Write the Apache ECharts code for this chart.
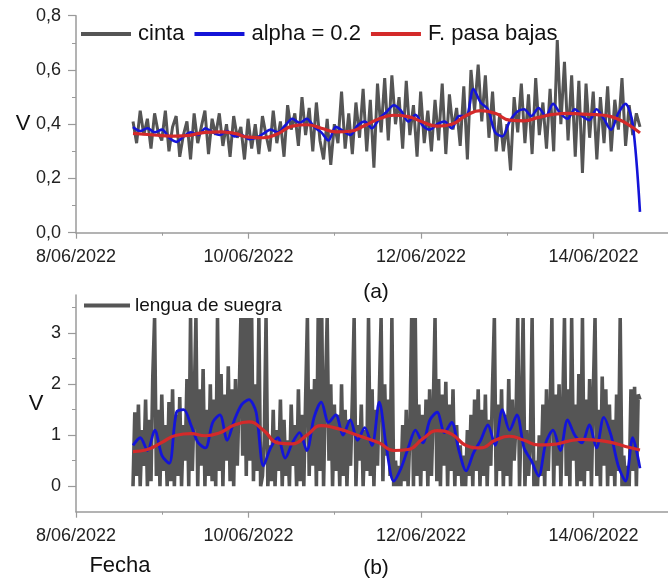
<!DOCTYPE html>
<html><head><meta charset="utf-8">
<script src="https://cdn.jsdelivr.net/npm/echarts@6/dist/echarts.min.js"></script>
<style>html,body{margin:0;padding:0;background:#fff}#c{width:668px;height:584px}</style>
</head><body><div id="c"></div><script>
// x positions: days since 8/06/2022 00:00; series are evenly spaced between startDay and endDay
const startDay = 0.661, endDay = 6.539;
const xLabelDays = [0, 2, 4, 6];
const yTicksA = [0, 0.2, 0.4, 0.6, 0.8];
const yTicksB = [0, 1, 2, 3];
const yMinorB = [0.5, 1.5, 2.5, 3.5];

// panel (a) "cinta" raw (hourly)
const cintaA = [
0.41,0.33,0.45,0.36,0.42,0.31,0.44,0.37,0.34,0.45,0.30,0.39,
0.43,0.28,0.36,0.41,0.27,0.44,0.33,0.39,0.45,0.29,0.42,0.36,
0.44,0.32,0.40,0.28,0.43,0.35,0.39,0.27,0.42,0.31,0.40,0.29,
0.43,0.36,0.30,0.45,0.33,0.41,0.28,0.47,0.38,0.44,0.32,0.50,
0.36,0.46,0.30,0.48,0.34,0.27,0.42,0.25,0.40,0.33,0.52,0.31,
0.44,0.29,0.48,0.35,0.53,0.30,0.49,0.24,0.55,0.37,0.57,0.34,
0.58,0.40,0.50,0.31,0.56,0.36,0.47,0.28,0.52,0.33,0.45,0.30,
0.49,0.34,0.55,0.29,0.51,0.38,0.46,0.32,0.54,0.27,0.60,0.45,
0.62,0.41,0.58,0.35,0.52,0.30,0.44,0.30,0.40,0.23,0.50,0.37,
0.55,0.33,0.51,0.29,0.57,0.36,0.48,0.31,0.53,0.30,0.71,0.40,
0.63,0.34,0.58,0.28,0.56,0.22,0.55,0.35,0.52,0.27,0.50,0.33,
0.54,0.30,0.49,0.38,0.57,0.32,0.47,0.36,0.44,0.39];
// panel (a) "alpha = 0.2" (2-hourly)
const alphaA = [
0.39,0.375,0.385,0.37,0.38,0.35,0.335,0.355,0.37,0.36,
0.385,0.37,0.36,0.375,0.355,0.36,0.345,0.35,0.365,0.38,
0.37,0.395,0.42,0.405,0.42,0.39,0.37,0.34,0.39,0.375,
0.36,0.395,0.41,0.385,0.42,0.445,0.47,0.45,0.41,0.435,
0.395,0.38,0.40,0.41,0.385,0.43,0.43,0.53,0.48,0.455,
0.37,0.355,0.41,0.445,0.455,0.43,0.46,0.43,0.475,0.44,
0.42,0.455,0.43,0.415,0.455,0.42,0.38,0.44,0.475,0.40,0.077];
// panel (a) "F. pasa bajas" (4-hourly)
const pasaA = [
0.366,0.362,0.358,0.356,0.360,0.370,0.372,0.366,0.352,0.350,
0.365,0.393,0.398,0.385,0.372,0.374,0.395,0.420,0.433,0.428,
0.408,0.393,0.400,0.432,0.450,0.440,0.415,0.412,0.425,0.436,
0.440,0.437,0.435,0.428,0.405,0.368];
// panel (b) "lengua de suegra" raw (half-hourly)
const suegraB = [
0,1.45,0.2,1.6,0,1.1,0.4,1.7,0,1.3,0.1,2.15,3.3,0.2,1.5,0,1.8,0.3,1.2,0,1.65,0.1,1.9,0,
1.4,0.2,1.75,0,1.2,0.5,2.1,0,3.3,0.3,1.6,3.3,0,1.9,0.4,2.3,0,1.5,0.2,2.0,0.1,1.7,0,3.3,
0.3,2.2,0,1.8,0.5,2.35,0.1,1.9,0,2.1,0.4,1.7,3.3,0.6,3.3,0.2,3.3,0.5,3.3,0.1,2.0,0.3,3.3,0,
0.2,0.9,3.3,0,0.8,0.1,1.5,0,1.1,0.3,1.7,0,1.3,0.2,0.9,0,1.6,0.4,1.2,0,1.9,0.1,1.4,0,
1.7,3.3,0.2,1.9,0.4,2.1,0,3.3,0.3,3.3,0,1.8,3.3,0.5,2.0,0,1.6,0.3,1.4,0,2.0,0.2,1.5,0,
1.3,0.4,1.7,3.3,0,1.2,0.5,1.6,0,1.1,0.3,3.3,0.2,1.9,0,1.5,0.4,1.8,3.3,0.1,2.0,0.6,1.7,0.2,
3.3,0,0.5,0,0.4,0,1.2,0.1,1.5,0,1.0,3.3,0,3.3,0.2,1.6,0,1.4,0.3,1.7,0,1.9,0.2,1.5,
3.3,0.1,2.1,0,1.8,0.4,2.05,0,1.6,0.3,1.9,0,1.2,0.2,0.8,0,0.6,0,1.1,0.2,1.4,0,1.7,0.3,
1.9,0,1.5,0.2,1.8,0,1.3,0.4,2.0,3.3,0,1.6,0.3,1.9,0,1.4,0.2,2.1,0,1.7,0.5,1.2,3.3,0,
1.5,3.3,0,1.1,0.2,0.8,3.3,0,0.5,0,1.0,0.2,1.6,0,1.9,0.3,1.4,3.3,0,1.8,0.4,2.0,0,1.5,
3.3,0.2,1.9,0,3.3,0.5,1.6,0,2.2,0.1,3.3,0,1.7,0.3,2.1,0,1.8,3.3,0.2,1.5,0,2.15,0.4,1.9,
0,1.6,0.2,1.3,0,1.8,0.3,3.3,0,0.6,0,0.4,0,1.9,0.3,1.95,0,1.8,1.7];
// panel (b) alpha = 0.2 (2-hourly)
const alphaB = [
0.80,0.95,0.70,1.10,0.60,0.45,1.45,1.50,1.20,0.85,
0.75,1.25,1.40,0.90,1.30,1.60,1.70,1.45,0.40,0.75,
0.95,0.55,0.85,1.05,0.70,1.35,1.65,1.25,1.40,1.00,
1.30,0.90,1.15,0.80,1.65,0.75,0.10,0.35,0.75,1.10,
0.85,1.30,1.45,1.05,1.25,0.70,0.30,0.65,0.90,1.20,
0.80,1.50,1.10,1.40,0.75,0.50,0.20,0.85,1.10,0.70,
1.30,1.00,0.85,1.20,0.75,1.35,1.00,0.40,0.10,0.95,0.35];
// panel (b) low-pass (4-hourly)
const pasaB = [
0.68,0.72,0.86,1.00,1.03,0.99,1.05,1.20,1.26,1.10,
0.85,0.83,1.00,1.19,1.14,1.05,0.95,0.85,0.70,0.72,
0.93,1.09,1.02,0.80,0.75,0.90,0.98,0.90,0.81,0.82,
0.88,0.92,0.90,0.86,0.78,0.71];

const FONT = "'Liberation Sans', Arial, sans-serif";
const AX = '#9a9a9a';
function toXY(arr){ const n = arr.length; return arr.map((v,i)=>[startDay + (endDay-startDay)*i/(n-1), v]); }
function dateLabel(v){
  const d = new Date(Date.UTC(2022,5,8) + Math.round(v*86400000));
  return d.getUTCDate() + '/' + String(d.getUTCMonth()+1).padStart(2,'0') + '/' + d.getUTCFullYear();
}
function xAxisCfg(g){
  return {type:'value', gridIndex:g, min:0, max:6.864, interval:2,
    axisLine:{show:true, onZero:false, lineStyle:{color:AX, width:1.5}},
    axisTick:{show:true, inside:false, length:6, customValues:xLabelDays, lineStyle:{color:AX, width:1.2}},
    minorTick:{show:true, splitNumber:2, length:3, lineStyle:{color:AX, width:1}},
    splitLine:{show:false},
    axisLabel:{customValues:xLabelDays, margin:15, fontSize:18, color:'#222', fontFamily:FONT, formatter:dateLabel}};
}
const chart = echarts.init(document.getElementById('c'), null, {renderer:'canvas'});
chart.setOption({
  animation:false,
  backgroundColor:'#fff',
  grid:[{left:76, top:15.7, width:592, height:217},
        {left:76, top:295, width:592, height:216.7}],
  legend:[
    {data:['cinta','alpha = 0.2','F. pasa bajas'], left:76, top:18, icon:'rect', itemWidth:50, itemHeight:4, itemGap:10,
     textStyle:{fontSize:22, color:'#111', fontFamily:FONT, padding:[0,0,0,2]}},
    {data:['lengua de suegra'], left:79, top:291, icon:'rect', itemWidth:46, itemHeight:4, itemGap:10,
     textStyle:{fontSize:19, color:'#111', fontFamily:FONT}}
  ],
  xAxis:[xAxisCfg(0), xAxisCfg(1)],
  yAxis:[
    {type:'value', gridIndex:0, min:0, max:0.8, interval:0.2, position:'left',
     axisLine:{show:true, lineStyle:{color:AX, width:1.5}},
     axisTick:{show:true, length:8, lineStyle:{color:AX, width:1.2}},
     minorTick:{show:true, splitNumber:2, length:4, lineStyle:{color:AX}},
     splitLine:{show:false},
     axisLabel:{margin:15, fontSize:18, color:'#222', fontFamily:FONT, formatter:v=>v.toFixed(1).replace('.',',')}},
    {type:'value', gridIndex:1, min:-0.5, max:3.75, position:'left',
     axisLine:{show:true, lineStyle:{color:AX, width:1.5}},
     axisTick:{show:true, length:8, customValues:yTicksB, lineStyle:{color:AX, width:1.2}},
     splitLine:{show:false},
     axisLabel:{margin:15, customValues:yTicksB, fontSize:18, color:'#222', fontFamily:FONT}},
    {type:'value', gridIndex:1, min:-0.5, max:3.75, position:'left', offset:0,
     axisLine:{show:false},
     axisTick:{show:true, length:4, customValues:yMinorB, lineStyle:{color:AX, width:1}},
     splitLine:{show:false},
     axisLabel:{show:false}}
  ],
  series:[
    {name:'cinta', type:'line', xAxisIndex:0, yAxisIndex:0, data:toXY(cintaA), showSymbol:false,
     lineStyle:{color:'#555555', width:3}, itemStyle:{color:'#555555'}},
    {name:'alpha = 0.2', type:'line', xAxisIndex:0, yAxisIndex:0, data:toXY(alphaA), showSymbol:false, smooth:0.3,
     lineStyle:{color:'#1414d8', width:2.6}, itemStyle:{color:'#1414d8'}},
    {name:'F. pasa bajas', type:'line', xAxisIndex:0, yAxisIndex:0, data:toXY(pasaA), showSymbol:false, smooth:true,
     lineStyle:{color:'#d42a2a', width:3.2}, itemStyle:{color:'#d42a2a'}},
    {name:'lengua de suegra', type:'line', xAxisIndex:1, yAxisIndex:1, data:toXY(suegraB), showSymbol:false,
     lineStyle:{color:'#555555', width:3.6}, itemStyle:{color:'#555555'}},
    {name:'alpha b', type:'line', xAxisIndex:1, yAxisIndex:1, data:toXY(alphaB), showSymbol:false, smooth:0.3,
     lineStyle:{color:'#1414d8', width:2.8}, itemStyle:{color:'#1414d8'}},
    {name:'pasa b', type:'line', xAxisIndex:1, yAxisIndex:1, data:toXY(pasaB), showSymbol:false, smooth:true,
     lineStyle:{color:'#d42a2a', width:3.2}, itemStyle:{color:'#d42a2a'}}
  ],
  graphic:[
    {type:'text', x:23, y:124, style:{text:'V', fontSize:22, fill:'#111', fontFamily:FONT, align:'center', verticalAlign:'middle'}},
    {type:'text', x:36, y:404, style:{text:'V', fontSize:22, fill:'#111', fontFamily:FONT, align:'center', verticalAlign:'middle'}},
    {type:'text', x:376, y:292, style:{text:'(a)', fontSize:21, fill:'#111', fontFamily:FONT, align:'center', verticalAlign:'middle'}},
    {type:'text', x:376, y:568, style:{text:'(b)', fontSize:21, fill:'#111', fontFamily:FONT, align:'center', verticalAlign:'middle'}},
    {type:'text', x:120, y:566, style:{text:'Fecha', fontSize:22, fill:'#111', fontFamily:FONT, align:'center', verticalAlign:'middle'}}
  ]
});
</script></body></html>
